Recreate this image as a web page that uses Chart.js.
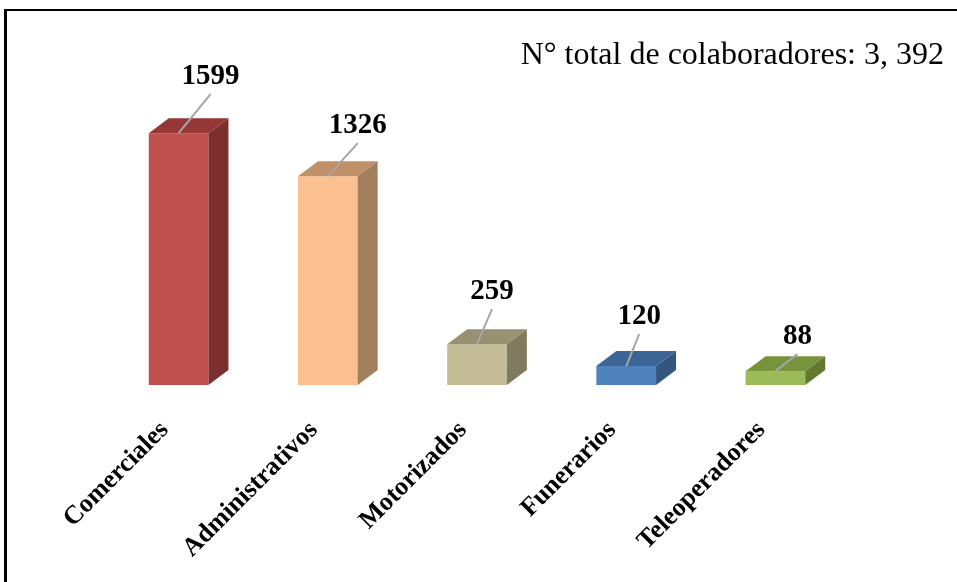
<!DOCTYPE html>
<html>
<head>
<meta charset="utf-8">
<script src="https://cdn.jsdelivr.net/npm/chart.js@4"></script>
<style>
  body { margin: 0; background: #fff; }
  #wrap { position: relative; width: 957px; height: 582px; overflow: hidden; }
  #marco { position: absolute; left: 4px; top: 9px; width: 1000px; height: 700px;
           border-top: 2px solid #000; border-left: 3px solid #000; }
  #grafico { position: absolute; left: 0; top: 0; }
</style>
</head>
<body>
<div id="wrap">
  <div id="marco"></div>
  <canvas id="grafico"></canvas>
</div>
<script>
// Dados do gráfico
const categorias = ['Comerciales', 'Administrativos', 'Motorizados', 'Funerarios', 'Teleoperadores'];
const colaboradores = [1599, 1326, 259, 120, 88];
const tituloTotal = 'N° total de colaboradores: 3, 392';

// Cores das faces (frente, topo, lateral)
const coresFrente = ['#C0504D', '#FAC090', '#C4BD97', '#4F81BD', '#9BBB59'];
const coresTopo = ['#953735', '#C09068', '#979071', '#3C6495', '#77933C'];
const coresLado = ['#7D2F2D', '#A27F5E', '#807B5E', '#34557F', '#62792F'];

// Efeito 3D e posição dos rótulos (linha guia)
const profundidade = { x: 20, y: 15 };
const deslocRotulos = [[32, -39], [30, -33], [15, -35], [13, -32], [22, -17]];

const barras3d = {
  id: 'barras3d',
  afterDatasetsDraw(chart) {
    const ctx = chart.ctx;
    const valores = chart.data.datasets[0].data;
    const meta = chart.getDatasetMeta(0);
    meta.data.forEach((barra, i) => {
      const { x, y, base, width } = barra.getProps(['x', 'y', 'base', 'width'], true);
      const esq = x - width / 2;
      const dir = x + width / 2;
      const dx = profundidade.x, dy = profundidade.y;
      ctx.save();
      // topo
      ctx.fillStyle = coresTopo[i];
      ctx.beginPath();
      ctx.moveTo(esq, y);
      ctx.lineTo(esq + dx, y - dy);
      ctx.lineTo(dir + dx, y - dy);
      ctx.lineTo(dir, y);
      ctx.closePath();
      ctx.fill();
      // lateral
      ctx.fillStyle = coresLado[i];
      ctx.beginPath();
      ctx.moveTo(dir, y);
      ctx.lineTo(dir + dx, y - dy);
      ctx.lineTo(dir + dx, base - dy);
      ctx.lineTo(dir, base);
      ctx.closePath();
      ctx.fill();
      // linha guia + rótulo
      const [ox, oy] = deslocRotulos[i];
      ctx.strokeStyle = '#A6A6A6';
      ctx.lineWidth = 2;
      ctx.beginPath();
      ctx.moveTo(x, y);
      ctx.lineTo(x + ox, y + oy);
      ctx.stroke();
      ctx.fillStyle = '#000';
      ctx.font = 'bold 29px "Liberation Serif"';
      ctx.textAlign = 'center';
      ctx.textBaseline = 'alphabetic';
      ctx.fillText(String(valores[i]), x + ox, y + oy - 10);
      ctx.restore();
    });
  },
  afterDraw(chart) {
    const ctx = chart.ctx;
    ctx.save();
    ctx.fillStyle = '#000';
    ctx.font = '32px "Liberation Serif"';
    ctx.textAlign = 'right';
    ctx.textBaseline = 'alphabetic';
    ctx.fillText(tituloTotal, 944, 64);
    ctx.restore();
  }
};

new Chart(document.getElementById('grafico').getContext('2d'), {
  type: 'bar',
  data: {
    labels: categorias,
    datasets: [{
      label: 'Colaboradores',
      data: colaboradores,
      backgroundColor: coresFrente,
      borderWidth: 0,
      barPercentage: 0.4,
      categoryPercentage: 1
    }]
  },
  options: {
    responsive: true,
    maintainAspectRatio: false,
    animation: false,
    layout: { padding: { top: 70, left: 104, right: 107, bottom: 0 } },
    plugins: {
      legend: { display: false },
      tooltip: { enabled: false }
    },
    scales: {
      x: {
        grid: { display: false },
        border: { display: false },
        ticks: {
          color: '#000',
          font: { family: 'Liberation Serif', size: 26, weight: 'bold' },
          maxRotation: 45,
          minRotation: 45,
          padding: 22,
          labelOffset: -14
        },
        afterFit(escala) { escala.height = 582 - 385; }
      },
      y: { display: false, min: 0, max: 2000 }
    }
  },
  plugins: [barras3d]
});
</script>
</body>
</html>
